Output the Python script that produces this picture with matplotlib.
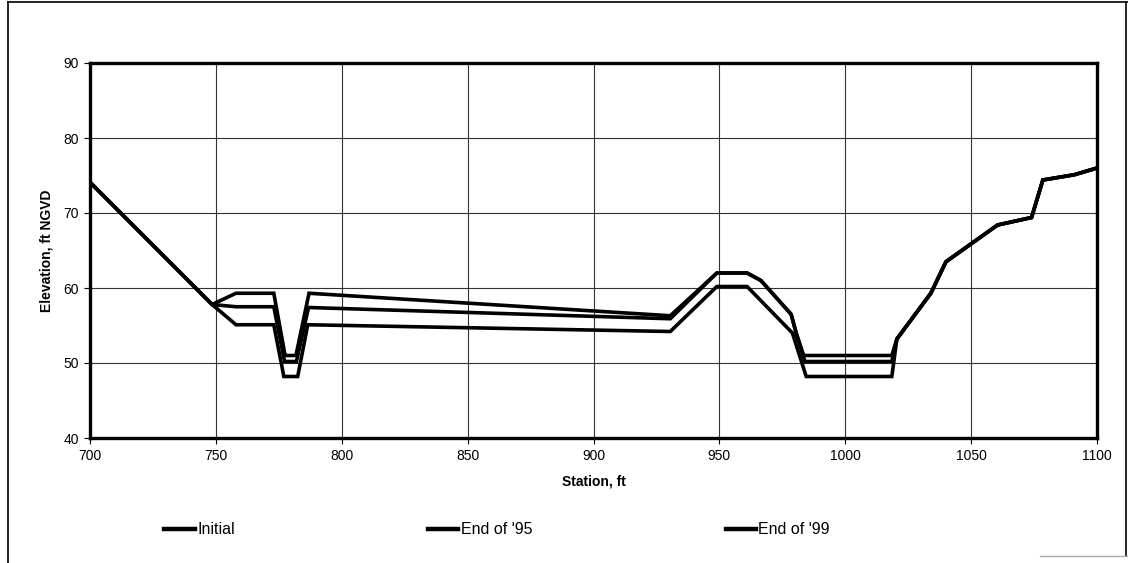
import matplotlib
matplotlib.use("Agg")
import matplotlib.pyplot as plt
from matplotlib.lines import Line2D

# ---- data ----
initial_x = [700, 748.5, 758, 773, 777, 782.5, 786.5, 930.5, 949, 961, 979, 984.5, 1018.5,
             1020.5, 1034, 1040, 1060.5, 1074, 1078.5, 1091, 1100]
initial_y = [74.1, 57.8, 55.1, 55.1, 48.2, 48.2, 55.1, 54.2, 60.2, 60.2, 54.0, 48.2, 48.2,
             53.2, 59.3, 63.5, 68.4, 69.4, 74.4, 75.1, 76.0]

end95_x = [700, 748.5, 758, 773, 777.3, 782, 786.8, 930.5, 949, 961, 966.5, 978.5, 980.5, 984, 1018.5,
           1020.5, 1034, 1040, 1060.5, 1074, 1078.5, 1091, 1100]
end95_y = [74.1, 57.8, 57.5, 57.5, 50.2, 50.2, 57.4, 55.9, 62.0, 62.0, 61.0, 56.5, 54.0, 50.2, 50.2,
           53.2, 59.3, 63.5, 68.4, 69.4, 74.4, 75.1, 76.0]

end99_x = [700, 748.5, 758, 773, 777.5, 781.8, 787, 930.5, 949, 961, 966.5, 978.5, 980.5, 983.5, 1018.5,
           1020.5, 1034, 1040, 1060.5, 1074, 1078.5, 1091, 1100]
end99_y = [74.1, 57.8, 59.3, 59.3, 51.0, 51.0, 59.3, 56.3, 62.0, 62.0, 61.0, 56.5, 54.0, 51.0, 51.0,
           53.2, 59.3, 63.5, 68.4, 69.4, 74.4, 75.1, 76.0]

series_names = ["Initial", "End of '95", "End of '99"]
x_ticks = [700, 750, 800, 850, 900, 950, 1000, 1050, 1100]
y_ticks = [40, 50, 60, 70, 80, 90]

plt.rcParams['font.family'] = ['Liberation Sans', 'DejaVu Sans']

fig = plt.figure(figsize=(11.28, 5.63), dpi=100)
ax = fig.add_axes([90/1128, 1-438/563, (1097-90)/1128, (438-63)/563])

for xs, ys, name in zip([initial_x, end95_x, end99_x], [initial_y, end95_y, end99_y], series_names):
    ax.plot(xs, ys, color='black', lw=2.6, solid_joinstyle='miter', label=name, zorder=3)

ax.set_xlim(700, 1100)
ax.set_ylim(40, 90)
ax.set_xticks(x_ticks)
ax.set_yticks(y_ticks)
ax.grid(True, color='#333333', lw=0.8, zorder=1)
for s in ax.spines.values():
    s.set_linewidth(2.4)
    s.set_color('black')
ax.tick_params(axis='both', direction='out', length=4, width=0.8, labelsize=10, pad=4)
ax.set_xlabel("Station, ft", fontsize=10, fontweight='bold', labelpad=8)
ax.set_ylabel("Elevation, ft NGVD", fontsize=10, fontweight='bold', labelpad=7)

handles = [Line2D([], [], color='black', lw=3.2) for _ in series_names]
fig.legend(handles, series_names, loc='center left', bbox_to_anchor=(150/1128, 1-530/563),
           ncol=3, frameon=False, fontsize=11.5, handlelength=1.9, handletextpad=0.15,
           columnspacing=12.1)

# outer chart border
fig.add_artist(Line2D([8/1128, 8/1128], [0, 1-2/563], color='black', lw=1.2, transform=fig.transFigure))
fig.add_artist(Line2D([8/1128, 1], [1-2/563, 1-2/563], color='black', lw=1.2, transform=fig.transFigure))
fig.add_artist(Line2D([1126/1128, 1126/1128], [1-556/563, 1-2/563], color='black', lw=1.2, transform=fig.transFigure))
fig.add_artist(Line2D([1040/1128, 1], [1-556/563, 1-556/563], color='#aaaaaa', lw=1.0, transform=fig.transFigure))

fig.savefig("out.png", dpi=100)
